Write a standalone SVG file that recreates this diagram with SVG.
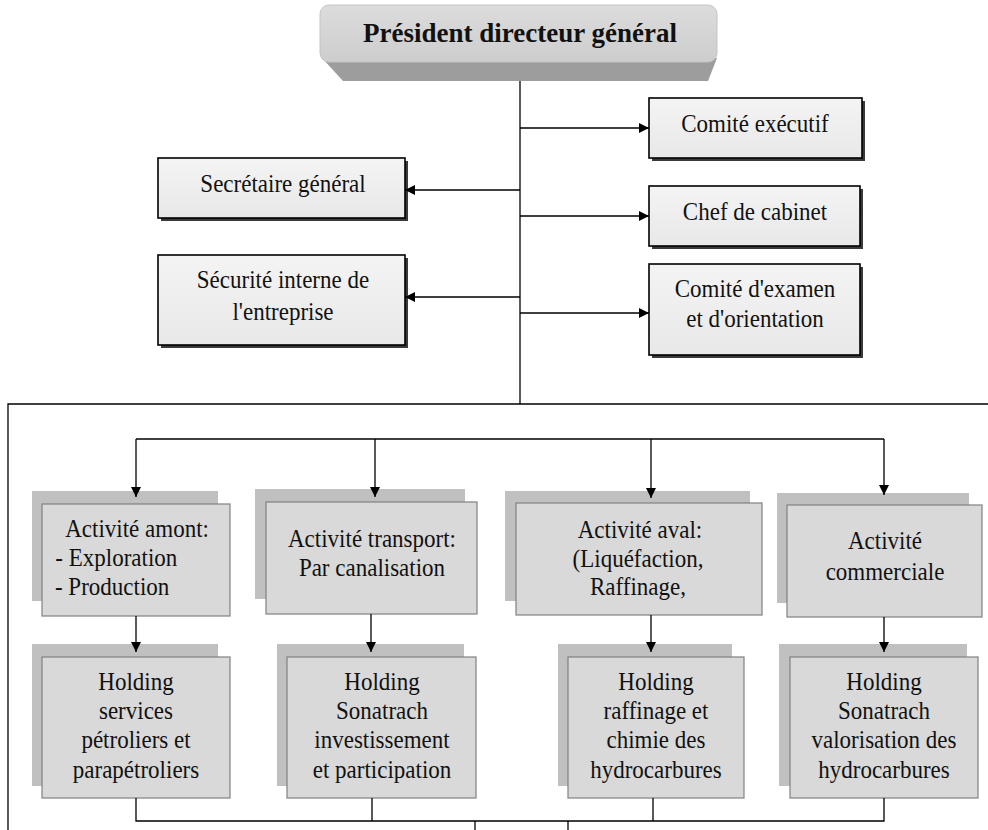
<svg xmlns="http://www.w3.org/2000/svg" width="988" height="830" viewBox="0 0 988 830">
<defs>
  <linearGradient id="pdgTop" x1="0" y1="0" x2="0" y2="1">
    <stop offset="0" stop-color="#dcdcdc"/>
    <stop offset="1" stop-color="#cdcdcd"/>
  </linearGradient>
  <linearGradient id="boxFill" x1="0" y1="0" x2="0" y2="1">
    <stop offset="0" stop-color="#f4f4f4"/>
    <stop offset="1" stop-color="#e8e8e8"/>
  </linearGradient>
  <marker id="arr" viewBox="0 0 10 10" refX="10" refY="5" markerWidth="11" markerHeight="10" markerUnits="userSpaceOnUse" orient="auto">
    <path d="M0,0 L10,5 L0,10 Z" fill="#000"/>
  </marker>
</defs>
<style>
  text { font-family: "Liberation Serif", "Times New Roman", serif; }
  .t { font-size: 25px; fill: #111; transform: scaleX(0.92); transform-box: fill-box; transform-origin: center; }
  .c { text-anchor: middle; }
  .title { font-size: 27px; font-weight: bold; fill: #111; text-anchor: middle; }
  .top-box { fill: url(#boxFill); stroke: #000; stroke-width: 1.6; }
  .top-shadow { fill: #3a3a3a; }
  .sh { fill: #c0c0c0; }
  .fr { fill: #d9d9d9; stroke: #808080; stroke-width: 1.2; }
  .ln { fill: none; stroke: #000; stroke-width: 1.3; }
  .ar { fill: none; stroke: #000; stroke-width: 1.3; marker-end: url(#arr); }
</style>
<rect width="988" height="830" fill="#fff"/>

<!-- PDG -->
<g id="pdg">
  <polygon points="322,58 717,58 708,81 343,81" fill="#9d9d9d"/>
  <rect x="320" y="5" width="397" height="57" rx="9" fill="url(#pdgTop)" stroke="#c4c4c4" stroke-width="1"/>
  <text class="title" x="520" y="42">Président directeur général</text>
</g>

<!-- Upper boxes -->
<g id="comite-executif">
  <rect class="top-shadow" x="652" y="101" width="213" height="60"/>
  <rect class="top-box" x="649" y="98" width="213" height="60"/>
  <text class="t c" x="755" y="132">Comité exécutif</text>
</g>
<g id="secretaire">
  <rect class="top-shadow" x="161" y="161" width="247" height="60"/>
  <rect class="top-box" x="158" y="158" width="247" height="60"/>
  <text class="t c" x="283" y="192">Secrétaire général</text>
</g>
<g id="chef-cabinet">
  <rect class="top-shadow" x="652" y="189" width="211" height="60"/>
  <rect class="top-box" x="649" y="186" width="211" height="60"/>
  <text class="t c" x="755" y="220">Chef de cabinet</text>
</g>
<g id="securite">
  <rect class="top-shadow" x="161" y="258" width="247" height="90"/>
  <rect class="top-box" x="158" y="255" width="247" height="90"/>
  <text class="t c" x="283" y="288">Sécurité interne de</text>
  <text class="t c" x="283" y="320">l'entreprise</text>
</g>
<g id="comite-examen">
  <rect class="top-shadow" x="652" y="267" width="211" height="91"/>
  <rect class="top-box" x="649" y="264" width="211" height="91"/>
  <text class="t c" x="755" y="297">Comité d'examen</text>
  <text class="t c" x="755" y="327">et d'orientation</text>
</g>

<!-- Activities -->
<g id="act-amont">
  <rect class="sh" x="32" y="491" width="186" height="110"/>
  <rect class="fr" x="42" y="504" width="188" height="112"/>
  <text class="t" x="59" y="537">Activité amont:</text>
  <text class="t" x="50" y="566">- Exploration</text>
  <text class="t" x="50" y="595">- Production</text>
</g>
<g id="act-transport">
  <rect class="sh" x="255" y="489" width="210" height="110"/>
  <rect class="fr" x="266" y="502" width="211" height="112"/>
  <text class="t c" x="372" y="547">Activité transport:</text>
  <text class="t c" x="372" y="576">Par canalisation</text>
</g>
<g id="act-aval">
  <rect class="sh" x="505" y="491" width="245" height="110"/>
  <rect class="fr" x="516" y="503" width="246" height="112"/>
  <text class="t c" x="640" y="538">Activité aval:</text>
  <text class="t c" x="638" y="567">(Liquéfaction,</text>
  <text class="t c" x="638" y="595">Raffinage,</text>
</g>
<g id="act-commerciale">
  <rect class="sh" x="777" y="493" width="192" height="110"/>
  <rect class="fr" x="787" y="505" width="195" height="112"/>
  <text class="t c" x="885" y="549">Activité</text>
  <text class="t c" x="885" y="580">commerciale</text>
</g>

<!-- Holdings -->
<g id="holding-services">
  <rect class="sh" x="32" y="644" width="186" height="142"/>
  <rect class="fr" x="42" y="657" width="188" height="141"/>
  <text class="t c" x="136" y="690">Holding</text>
  <text class="t c" x="136" y="719">services</text>
  <text class="t c" x="136" y="748">pétroliers et</text>
  <text class="t c" x="136" y="778">parapétroliers</text>
</g>
<g id="holding-investissement">
  <rect class="sh" x="277" y="644" width="187" height="142"/>
  <rect class="fr" x="287" y="657" width="189" height="141"/>
  <text class="t c" x="382" y="690">Holding</text>
  <text class="t c" x="382" y="719">Sonatrach</text>
  <text class="t c" x="382" y="748">investissement</text>
  <text class="t c" x="382" y="778">et participation</text>
</g>
<g id="holding-raffinage">
  <rect class="sh" x="558" y="644" width="174" height="142"/>
  <rect class="fr" x="568" y="657" width="176" height="141"/>
  <text class="t c" x="656" y="690">Holding</text>
  <text class="t c" x="656" y="719">raffinage et</text>
  <text class="t c" x="656" y="748">chimie des</text>
  <text class="t c" x="656" y="778">hydrocarbures</text>
</g>
<g id="holding-valorisation">
  <rect class="sh" x="779" y="644" width="188" height="142"/>
  <rect class="fr" x="790" y="657" width="188" height="141"/>
  <text class="t c" x="884" y="690">Holding</text>
  <text class="t c" x="884" y="719">Sonatrach</text>
  <text class="t c" x="884" y="748">valorisation des</text>
  <text class="t c" x="884" y="778">hydrocarbures</text>
</g>

<!-- Connectors -->
<g id="connectors">
  <path class="ln" d="M520,81 V404"/>
  <path class="ar" d="M520,128 H649"/>
  <path class="ar" d="M520,190 H405"/>
  <path class="ar" d="M520,216 H649"/>
  <path class="ar" d="M520,297 H405"/>
  <path class="ar" d="M520,313 H649"/>
  <path class="ln" d="M988,404 H8 V830"/>
  <path class="ln" d="M136,439 H884"/>
  <path class="ar" d="M136,439 V497"/>
  <path class="ar" d="M375,439 V497"/>
  <path class="ar" d="M651,439 V498"/>
  <path class="ar" d="M884,439 V495"/>
  <path class="ar" d="M136,616 V652"/>
  <path class="ar" d="M371,614 V652"/>
  <path class="ar" d="M651,615 V652"/>
  <path class="ar" d="M884,617 V652"/>
  <path class="ln" d="M136,798 V821 H884 V798"/>
  <path class="ln" d="M372,798 V821"/>
  <path class="ln" d="M653,798 V821"/>
  <path class="ln" d="M475,821 V830"/>
  <path class="ln" d="M568,821 V830"/>
</g>
</svg>
